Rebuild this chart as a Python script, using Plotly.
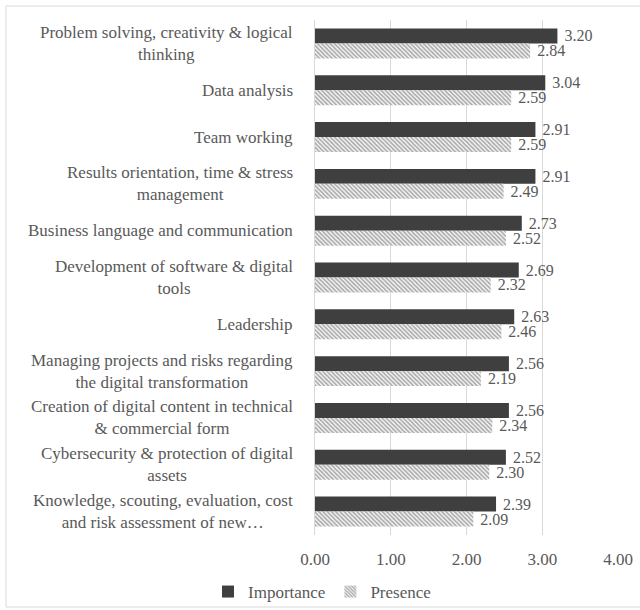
import plotly.graph_objects as go

categories = [
    "Problem solving, creativity & logical<br>thinking",
    "Data analysis",
    "Team working",
    "Results orientation, time & stress<br>management",
    "Business language and communication",
    "Development of software & digital<br>tools",
    "Leadership",
    "Managing projects and risks regarding<br>the digital transformation",
    "Creation of digital content in technical<br>& commercial form",
    "Cybersecurity & protection of digital<br>assets",
    "Knowledge, scouting, evaluation, cost<br>and risk assessment of new…",
]
importance = [3.20, 3.04, 2.91, 2.91, 2.73, 2.69, 2.63, 2.56, 2.56, 2.52, 2.39]
presence = [2.84, 2.59, 2.59, 2.49, 2.52, 2.32, 2.46, 2.19, 2.34, 2.30, 2.09]
x_ticks = [0, 1, 2, 3, 4]

FONT = "Liberation Serif"
TXT = "#595959"
FS = 17
VFS = 16
W, H = 640, 610
L, R, T, B = 315, 22, 20, 75
pw, ph = W - L - R, H - T - B

cat_ids = list(range(len(categories)))

fig = go.Figure()
fig.add_trace(go.Bar(
    y=cat_ids, x=importance, orientation="h", name="Importance",
    marker=dict(color="#3f3f3f", line=dict(width=0)),
    text=["\u00a0" + f"{v:.2f}" for v in importance], textposition="outside",
    constraintext="none",
    textfont=dict(family=FONT, size=VFS, color=TXT), cliponaxis=False,
))
fig.add_trace(go.Bar(
    y=cat_ids, x=presence, orientation="h", name="Presence",
    marker=dict(color="#ffffff", line=dict(width=0),
                pattern=dict(shape="\\", fgcolor="#5a5a5a", bgcolor="#ffffff",
                             size=3, solidity=0.6)),
    text=["\u00a0" + f"{v:.2f}" for v in presence], textposition="outside",
    constraintext="none",
    textfont=dict(family=FONT, size=VFS, color=TXT), cliponaxis=False,
))

for i, c in enumerate(categories):
    fig.add_annotation(
        x=0, xref="paper", xanchor="right", xshift=-20,
        y=i, yref="y", yanchor="middle",
        text=c, showarrow=False, align="center",
        font=dict(family=FONT, size=FS, color=TXT),
    )

# outer chart border
fig.add_shape(type="rect", xref="paper", yref="paper",
              x0=(6 - L) / pw, x1=(646 - L) / pw,
              y0=(H - B - 607) / ph, y1=(H - B - 6) / ph,
              line=dict(color="#d9d9d9", width=1), fillcolor="rgba(0,0,0,0)", layer="below")

fig.update_layout(
    width=W, height=H,
    margin=dict(l=L, r=R, t=T, b=B, pad=0, autoexpand=False),
    paper_bgcolor="white", plot_bgcolor="white",
    barmode="group", bargap=0.36, bargroupgap=0,
    font=dict(family=FONT, size=FS, color=TXT),
    showlegend=True,
    legend=dict(orientation="h", x=(322 - L) / pw, xanchor="center",
                y=-(592 - (H - B)) / ph, yanchor="middle",
                bgcolor="rgba(0,0,0,0)",
                font=dict(family=FONT, size=FS, color=TXT),
                traceorder="normal", itemwidth=30),
)
fig.update_xaxes(range=[0, 4], tickvals=x_ticks, ticktext=[f"{v:.2f}" for v in x_ticks],
                 showgrid=True, gridcolor="#d9d9d9", gridwidth=1, zeroline=False,
                 showline=False, ticks="", tickfont=dict(family=FONT, size=FS, color=TXT),
                 ticklabelstandoff=12)
fig.update_yaxes(range=[len(categories) - 0.5, -0.5], tickvals=cat_ids, showticklabels=False,
                 showgrid=False, zeroline=False, showline=True, linecolor="#d9d9d9", ticks="")

fig.write_html("out.html")
